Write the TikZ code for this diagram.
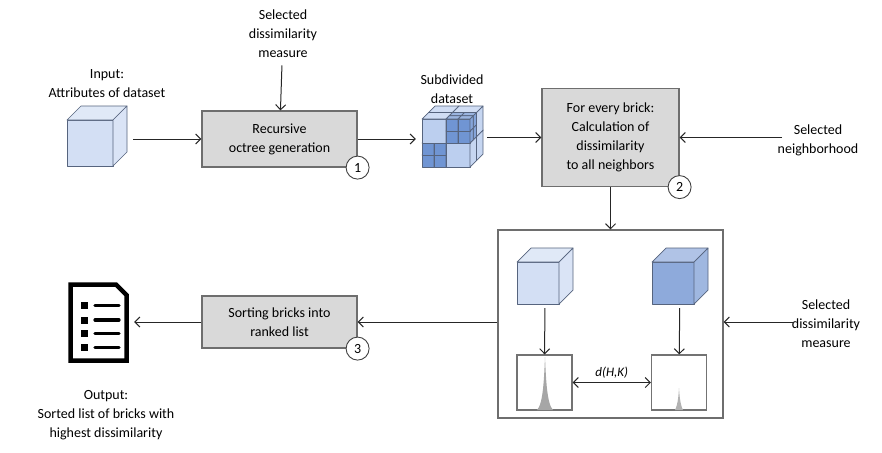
\documentclass[tikz,border=0pt]{standalone}
\usepackage{fontspec}
\setmainfont{Carlito}
\usetikzlibrary{arrows.meta}

\definecolor{boxgray}{HTML}{D9D9D9}
\definecolor{edgegray}{HTML}{6E6E6E}
\definecolor{bluelight}{HTML}{D3DFF4}
\definecolor{bluemid}{HTML}{BCCFEF}
\definecolor{bluedark}{HTML}{7095D3}
\definecolor{bluedeep}{HTML}{8EAADB}
\definecolor{brickline}{HTML}{56647E}

\tikzset{
  txt/.style={align=center, font=\fontsize{14}{19}\selectfont, text=black},
  stepbox/.style={txt, draw=edgegray, fill=boxgray, line width=1.2pt, inner sep=2pt},
  numcirc/.style={circle, draw=black!75, fill=white, line width=0.9pt,
    minimum size=23pt, inner sep=0pt, font=\fontsize{14}{14}\selectfont},
  flow/.style={-{Straight Barb[length=5pt,width=10pt]}, line width=1pt, draw=black!85},
  biflow/.style={{Straight Barb[length=5pt,width=10pt]}-{Straight Barb[length=5pt,width=10pt]},
    line width=1pt, draw=black!85},
  histbox/.style={draw=black!55, line width=1.2pt, minimum size=55pt, inner sep=0pt},
  brickedge/.style={draw=brickline, line width=0.7pt, line join=round},
  hole/.style={inner sep=0pt, minimum width=#1, minimum height=#1},
}

% faces of one cube: x, y (front top-left corner), size, depth, colour
\newcommand{\cubefaces}[5]{%
  \filldraw[brickedge, fill=#5] (#1,#2) rectangle ++(#3,#3);
  \filldraw[brickedge, fill=#5!70!white] (#1,#2) -- ++(#4,-#4) -- ++(#3,0) -- ++(-#4,#4) -- cycle;
  \filldraw[brickedge, fill=#5!85!white] (#1+#3,#2) -- ++(#4,-#4) -- ++(0,#3) -- ++(-#4,#4) -- cycle;
}

\begin{document}
\begin{tikzpicture}[x=1pt, y=-1pt]
  \useasboundingbox (0,0) rectangle (882,452);

  % labels
  \node[txt] (input) at (107,84) {Input:\\Attributes of dataset};
  \node[txt] (measA) at (283,34) {Selected\\dissimilarity\\measure};
  \node[txt] (subtxt) at (452,89) {Subdivided\\dataset};
  \node[txt] (neigh) at (818,140) {Selected\\neighborhood};
  \node[txt] (measB) at (826,324) {Selected\\dissimilarity\\measure};
  \node[txt] (output) at (106,415) {Output:\\Sorted list of bricks with\\highest dissimilarity};

  % input cube
  \cubefaces{67}{120}{46}{14}{bluelight}
  \node[hole=60] (cubeIn) at (97,136) {};

  % subdivided cube, back octants first
  \foreach \z in {1,0} {
    \foreach \r in {1,0} {
      \foreach \c in {0,1} {
        \pgfmathsetmacro{\ox}{422+\c*24+\z*6.5}
        \pgfmathsetmacro{\oy}{119+\r*24-\z*6.5}
        \pgfmathtruncatemacro{\dk}{(\z==0)&&(\r+\c==1)}
        \ifnum\dk=1
          \foreach \zz in {1,0} {
            \foreach \rr in {1,0} {
              \foreach \cc in {0,1} {
                \cubefaces{\ox+\cc*12+\zz*3.25}{\oy+\rr*12-\zz*3.25}{12}{3.25}{bluedark}
              }
            }
          }
        \else
          \cubefaces{\ox}{\oy}{24}{6.5}{bluemid}
        \fi
      }
    }
  }
  \node[hole=61] (subdiv) at (452.5,136.5) {};

  % process steps
  \node[stepbox, minimum width=155, minimum height=56] (octree) at (279.5,139)
    {Recursive\\octree generation};
  \node[stepbox, minimum width=137, minimum height=98] (calc) at (610.5,137.5)
    {For every brick:\\Calculation of\\dissimilarity\\to all neighbors};
  \node[stepbox, minimum width=155, minimum height=52] (sort) at (279.5,322)
    {Sorting bricks into\\ranked list};
  \node[numcirc] (n1) at (octree.south east) {1};
  \node[numcirc] (n2) at (calc.south east) {2};
  \node[numcirc] (n3) at (sort.south east) {3};

  % dissimilarity between two bricks
  \node[draw=edgegray, line width=1.2pt, minimum width=225, minimum height=188] (result) at (610.5,324) {};
  \cubefaces{517}{262}{42}{14}{bluelight}
  \node[hole=56] (cubeL) at (545,276) {};
  \cubefaces{652}{262}{42}{14}{bluedeep}
  \node[hole=56] (cubeR) at (680,276) {};
  \node[histbox] (histL) at (544.5,382.5) {};
  \node[histbox] (histR) at (679,382.5) {};
  \fill[black!35] (537,410) .. controls (543,404) and (544,380) .. (545,357)
    .. controls (546,380) and (547,404) .. (553,410) -- cycle;
  \fill[black!30] (675,410) .. controls (678,404) and (678.5,395) .. (679,388)
    .. controls (679.5,395) and (680,404) .. (683,410) -- cycle;

  % result icon
  \node[minimum width=61, minimum height=81, inner sep=0pt] (doc) at (98.5,322.5) {};
  \draw[line width=4.5pt, line join=miter] (70.5,284.5) -- (116,284.5) -- (126.5,295)
    -- (126.5,360.5) -- (70.5,360.5) -- cycle;
  \foreach \yy in {305.5,320,333.5,347.5} {
    \fill (81,\yy-3.5) rectangle (88,\yy+3.5);
    \draw[line width=3.2pt, line cap=round] (95,\yy) -- (119,\yy);
  }

  % connectors
  \draw[flow, shorten <=6pt] (cubeIn.east |- octree.west) -- (octree.west);
  \draw[flow, shorten <=4pt] (measA) -- (octree);
  \draw[flow, shorten >=6pt] (octree.east) -- (subdiv.west |- octree.east);
  \draw[flow, shorten <=4pt] (subdiv.east |- calc.west) -- (calc.west);
  \draw[flow, shorten <=-8pt] (neigh.west |- calc.east) -- (calc.east);
  \draw[flow] (calc) -- (result);
  \draw[flow] (result.west |- sort.east) -- (sort.east);
  \draw[flow, shorten >=5pt] (sort.west) -- (doc.east |- sort.west);
  \draw[flow, shorten <=-6pt] (measB.west |- sort.east) -- (result.east |- sort.east);
  \draw[flow, shorten <=4pt] (cubeL) -- (histL);
  \draw[flow, shorten <=4pt] (cubeR) -- (histR);
  \draw[biflow] (histL) -- node[above, font=\fontsize{13}{13}\selectfont\itshape] {d(H,K)} (histR);
\end{tikzpicture}
\end{document}
